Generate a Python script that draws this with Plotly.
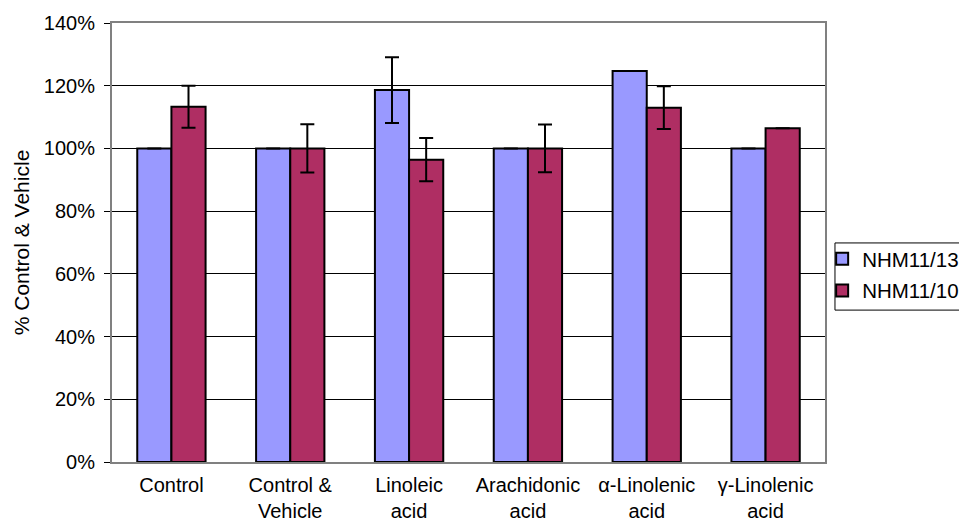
import plotly.graph_objects as go

categories = ["Control", "Control &<br>Vehicle", "Linoleic<br>acid", "Arachidonic<br>acid",
              "α-Linolenic<br>acid", "γ-Linolenic<br>acid"]
nhm13_values = [100, 100, 118.6, 100, 124.7, 100]
nhm13_errors = [0, 0, 10.5, 0, 0, 0]
nhm10_values = [113.3, 100, 96.4, 100, 113.0, 106.4]
nhm10_errors = [6.7, 7.7, 6.9, 7.6, 6.8, 0]
y_ticks = [0, 20, 40, 60, 80, 100, 120, 140]

FONT = "Liberation Sans, Arial, sans-serif"

fig = go.Figure()
fig.add_trace(go.Bar(
    name="NHM11/13", x=categories, y=nhm13_values, legendgroup="a",
    marker=dict(color="#9999FF", line=dict(color="black", width=2)),
    error_y=dict(type="data", array=nhm13_errors, visible=True, color="black", thickness=2, width=7),
))
fig.add_trace(go.Bar(
    name="NHM11/10", x=categories, y=nhm10_values, legendgroup="b",
    marker=dict(color="#AF2E63", line=dict(color="black", width=2)),
    error_y=dict(type="data", array=nhm10_errors, visible=True, color="black", thickness=2, width=7),
))

# legend frame (decoration), drawn in paper coordinates
fig.add_shape(type="rect", xref="paper", yref="paper",
              x0=1.014, x1=1.25, y0=0.346, y1=0.499,
              line=dict(color="black", width=1), fillcolor="white", layer="below")

fig.update_layout(
    width=967, height=524,
    margin=dict(l=104, r=150, t=15, b=70, autoexpand=False),
    paper_bgcolor="white", plot_bgcolor="white",
    barmode="group", bargap=0.425, bargroupgap=0,
    font=dict(family=FONT, size=20, color="black"),
    showlegend=True,
    legend=dict(
        x=0.996, xanchor="left", y=0.508, yanchor="top",
        borderwidth=0, bgcolor="rgba(0,0,0,0)",
        font=dict(family=FONT, size=20.5, color="black"),
        tracegroupgap=2,
    ),
)
fig.update_xaxes(
    showgrid=False, showline=True, linecolor="#808080", linewidth=2, mirror=True,
    ticks="", tickfont=dict(family=FONT, size=20), ticklabelstandoff=4, automargin=False,
)
fig.update_yaxes(
    range=[0, 140], tickvals=y_ticks, ticktext=[f"{v}%" for v in y_ticks],
    showgrid=True, gridcolor="black", gridwidth=1,
    showline=True, linecolor="#808080", linewidth=2, mirror=True,
    ticks="outside", ticklen=6, tickcolor="black", ticklabelstandoff=5,
    tickfont=dict(family=FONT, size=20), automargin=False,
    title=dict(text="% Control & Vehicle", font=dict(family=FONT, size=21), standoff=8),
    zeroline=False,
)

fig.write_html("out.html")
